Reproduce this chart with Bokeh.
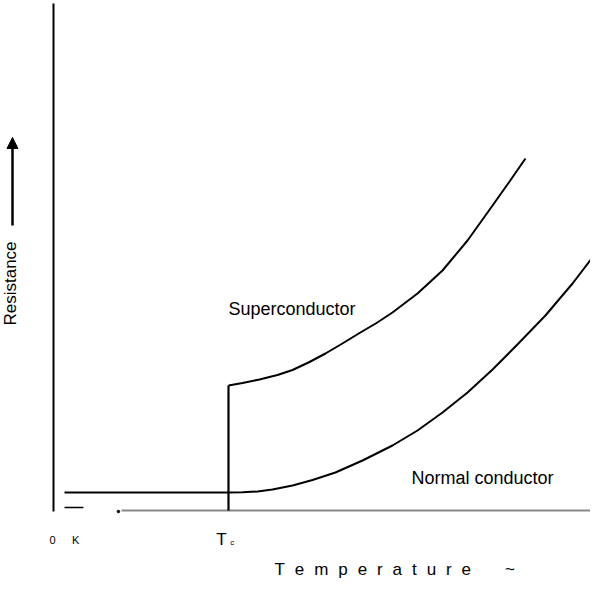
from bokeh.plotting import figure
from bokeh.models import Range1d, Label, Arrow, NormalHead
from bokeh.embed import file_html
from bokeh.resources import INLINE

# ---- data (arbitrary units read from the schematic) ----
tc = 10.0
normal_T = [0.63, 10.0, 10.8, 11.66, 12.51, 13.66, 14.8, 16.11, 17.66, 19.37, 20.8,
            22.23, 23.66, 25.09, 26.51, 28.11, 29.66, 31.14]
normal_R = [1.8, 1.8, 1.82, 1.9, 2.1, 2.5, 3.05, 3.8, 5.0, 6.5, 8.0,
            9.8, 11.8, 14.1, 16.6, 19.5, 22.7, 26.1]
super_T = [10.0, 10.8, 11.77, 12.8, 13.66, 14.63, 15.54, 16.51, 17.49, 18.46,
           19.37, 20.8, 22.23, 23.66, 25.09, 26.06, 26.97]
super_R = [12.5, 12.75, 13.1, 13.55, 14.05, 14.85, 15.7, 16.7, 17.75, 18.75,
           19.8, 21.7, 24.0, 27.0, 30.5, 32.9, 35.2]
x_label = "Temperature"
y_label = "Resistance"
zero_label = "0\u2003\u2002K"
tc_label = "T"
tc_sub = "c"

FONT = "Liberation Sans"

p = figure(width=590, height=580,
           x_range=Range1d(-3.0286, 30.686), y_range=Range1d(-7.0, 51.0),
           x_axis_type=None, y_axis_type=None,
           output_backend="svg", toolbar_location=None, min_border=0)
p.grid.visible = False
p.outline_line_color = None
p.background_fill_color = "white"
p.border_fill_color = "white"

# vertical resistance axis
p.segment(x0=[0], y0=[-0.1], x1=[0], y1=[50.7], line_color="black", line_width=2)
# temperature baseline (grey)
p.segment(x0=[3.89], y0=[0], x1=[31.5], y1=[0], line_color="#888888", line_width=2)
p.scatter(x=[3.71], y=[-0.1], size=2.5, color="black")
# small dash near origin
p.segment(x0=[0.63], y0=[0.3], x1=[1.71], y1=[0.3], line_color="black", line_width=1.5)

# curves
p.line(normal_T, normal_R, line_color="black", line_width=2, line_join="round")
p.line(super_T, super_R, line_color="black", line_width=2, line_join="round")
# vertical jump at Tc
p.segment(x0=[tc], y0=[0], x1=[tc], y1=[super_R[0]], line_color="black", line_width=2.2)

# arrow next to resistance label
p.add_layout(Arrow(end=NormalHead(size=11, fill_color="black", line_color="black"),
                   x_start=-2.343, y_start=28.5, x_end=-2.343, y_end=37.3,
                   line_color="black", line_width=2.5))

def lab(text, x, y, size, **kw):
    p.add_layout(Label(x=x, y=y, text=text, text_font=FONT,
                       text_font_size=f"{size}px", text_color="black", **kw))

lab(y_label, -2.46, 22.7, 17, angle=1.5708, text_align="center", text_baseline="middle")
lab("Superconductor", 10.0, 20.2, 18, text_align="left", text_baseline="alphabetic")
lab("Normal conductor", 20.46, 3.3, 18, text_align="left", text_baseline="alphabetic")
lab(zero_label, -0.23, -2.9, 11, text_align="left", text_baseline="alphabetic")
lab(tc_label, 9.3, -2.9, 17, text_align="left", text_baseline="alphabetic")
lab(tc_sub, 10.1, -3.2, 8, text_align="left", text_baseline="alphabetic")

spaced = "\u2002\u200a".join(list(x_label)) + "\u2003\u2003~"
lab(spaced, 12.63, -5.9, 17, text_align="left", text_baseline="alphabetic")

open("out.html", "w").write(file_html(p, INLINE))
